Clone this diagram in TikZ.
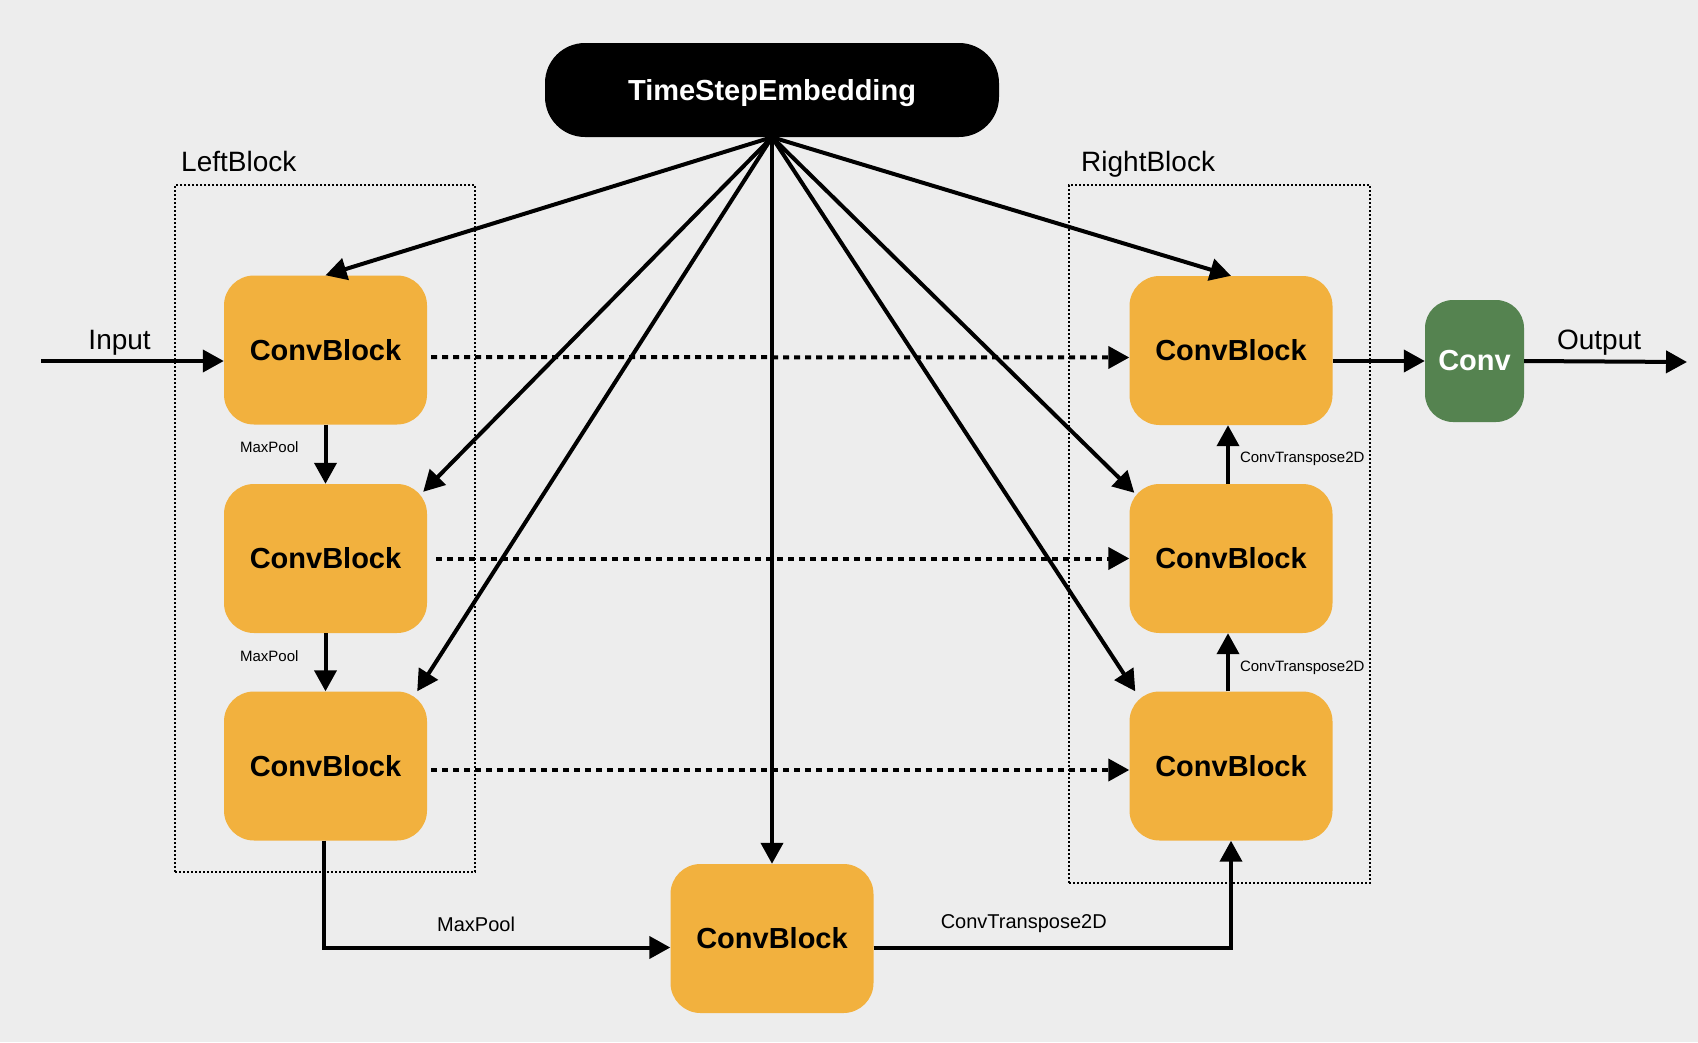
\documentclass[tikz,border=0pt]{standalone}
\usepackage{fontspec}
\setmainfont{Liberation Sans}
\usepackage{tikz}
\usetikzlibrary{positioning, arrows.meta}
\usepackage{xcolor}
\definecolor{paper}{RGB}{237,237,237}
\definecolor{blockorange}{RGB}{242,177,62}
\definecolor{convgreen}{RGB}{85,131,80}

\begin{document}
\begin{tikzpicture}[
    x=1pt, y=-1pt,
    block/.style={rectangle, rounded corners=30pt, fill=blockorange, minimum width=203pt, minimum height=149pt, inner sep=0pt, font=\fontsize{29}{34}\selectfont\bfseries},
    embed/.style={rectangle, rounded corners=40pt, fill=black, text=white, minimum width=454pt, minimum height=94pt, inner sep=0pt, text depth=0pt, font=\fontsize{29}{34}\selectfont\bfseries},
    outconv/.style={rectangle, rounded corners=28pt, fill=convgreen, text=white, minimum width=99pt, minimum height=122pt, inner sep=0pt, font=\fontsize{29}{34}\selectfont\bfseries},
    group/.style={rectangle, draw, line width=2pt, dash pattern=on 2pt off 2pt, inner sep=0pt},
    caption/.style={inner sep=0pt, font=\fontsize{28}{32}\selectfont},
    small/.style={inner sep=0pt, font=\fontsize{15}{18}\selectfont},
    mid/.style={inner sep=0pt, font=\fontsize{20}{24}\selectfont},
    flow/.style={line width=4pt, -{Triangle[length=21pt,width=22pt]}},
    skip/.style={flow, dash pattern=on 6pt off 5pt}
]
    \fill[paper] (0,0) rectangle (1698,1042);
    \useasboundingbox (0,0) rectangle (1698,1042);

    % dotted frames round the two halves
    \node[group, minimum width=300pt, minimum height=687pt] (left) at (325,528.5) {};
    \node[group, minimum width=301pt, minimum height=698pt] (right) at (1219.5,534) {};
    \node[caption, above right=12pt and 7pt of left.north west] (leftname) {LeftBlock};
    \node[caption, above right=6pt and 13pt of right.north west] (rightname) {RightBlock};

    \node[embed] (emb) at (772,90) {TimeStepEmbedding};

    \node[block] (l1) at (325.5,350) {ConvBlock};
    \node[block] (l2) at (325.5,558.5) {ConvBlock};
    \node[block] (l3) at (325.5,766) {ConvBlock};
    \node[block] (bot) at (772,938.5) {ConvBlock};
    \node[block] (r1) at (1231,350.5) {ConvBlock};
    \node[block] (r2) at (1231,558.5) {ConvBlock};
    \node[block] (r3) at (1231,766) {ConvBlock};
    \node[outconv] (conv) at (1474.5,361) {Conv};

    \coordinate (in) at (41,361);
    \coordinate (out) at (1687,362);

    % time step embedding into every block
    \path[flow]
        (emb.south) edge (l1.north)
        (emb.south) edge ([xshift=-4pt,yshift=-8pt]l2.north east)
        (emb.south) edge ([xshift=-10pt]l3.north east)
        (emb.south) edge (bot.north)
        (emb.south) edge ([xshift=6pt]r3.north west)
        (emb.south) edge ([xshift=5pt,yshift=-9pt]r2.north west)
        (emb.south) edge (r1.north);

    % skip connections
    \draw[skip] ([xshift=4pt,yshift=-7pt]l1.east) -- ([yshift=-7pt]r1.west);
    \draw[skip] ([xshift=9pt]l2.east) -- (r2.west);
    \draw[skip] ([xshift=4pt,yshift=-4pt]l3.east) -- ([yshift=-4pt]r3.west);

    \path[flow]
        (l1) edge node[small, pos=0.38, left=25pt] {MaxPool} (l2)
        (l2) edge node[small, pos=0.39, left=25pt] {MaxPool} (l3)
        ([xshift=-3pt]r3.north) edge node[small, pos=0.41, right=10pt] {ConvTranspose2D} ([xshift=-3pt]r2.south)
        ([xshift=-3pt]r2.north) edge node[small, pos=0.42, right=10pt] {ConvTranspose2D} ([xshift=-3pt]r1.south);

    \draw[flow] ([xshift=-2pt]l3.south) |- node[mid, pos=0.72, above=14pt] {MaxPool} ([yshift=-9pt]bot.west);
    \draw[flow] ([yshift=-9pt]bot.east) -| node[mid, pos=0.21, above=13pt] {ConvTranspose2D} (r3.south);

    \draw[flow] (in) -- node[caption, pos=0.43, above=4pt] {Input} (in -| l1.west);
    \draw[flow] (conv.west -| r1.east) -- (conv.west);
    \draw[flow] (conv.east) -- node[caption, pos=0.46, above=4pt] {Output} (out);
\end{tikzpicture}
\end{document}
